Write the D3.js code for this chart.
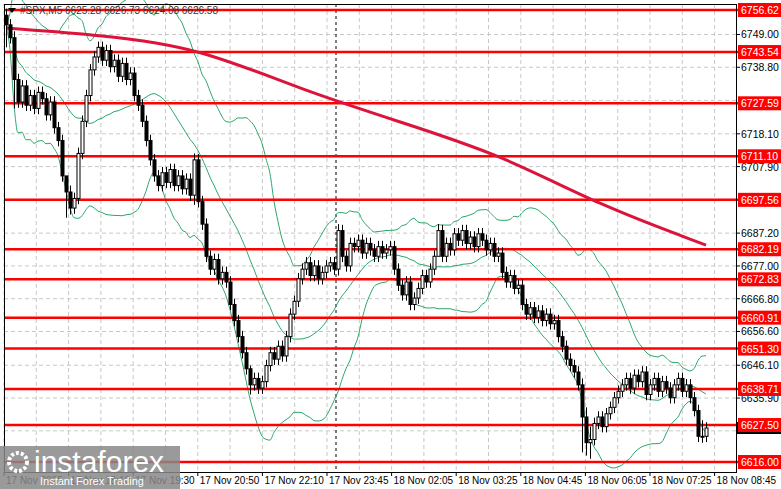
<!DOCTYPE html>
<html><head><meta charset="utf-8">
<script src="https://cdn.jsdelivr.net/npm/d3@7"></script>
<style>body{margin:0;background:#fff}text{font-family:"Liberation Sans",Arial,sans-serif}</style>
</head><body>
<script>
// closing prices of the 5-minute bars, left to right
var closes = [6752,6748,6735,6728,6733,6727,6730,6726,6731,6729,6724,6728,6720,6716,6705,6700,6695,6698,6712,6722,6730,
  6738,6742,6745,6741,6744,6739,6741,6736,6740,6735,6737,6730,6727,6722,6716,6710,6705,6702,6706,6703,
  6707,6702,6705,6701,6704,6699,6710,6697,6690,6680,6676,6679,6673,6675,6672,6665,6660,6655,6650,6645,6640,6642,
  6639,6641,6646,6650,6648,6652,6649,6655,6662,6666,6673,6676,6678,6674,6677,6673,6675,6677,6678,6676,6688,
  6680,6677,6684,6683,6685,6681,6684,6682,6680,6683,6681,6682,6683,6676,6671,6668,6672,6665,6667,6670,
  6674,6672,6676,6680,6688,6680,6684,6682,6687,6685,6688,6684,6686,6683,6687,6685,6682,6684,6680,6681,6675,
  6672,6674,6670,6671,6665,6662,6664,6661,6663,6660,6662,6659,6660,6655,6652,6648,6646,6644,6640,6630,6622,
  6623,6628,6630,6627,6631,6633,6636,6638,6640,6642,6639,6643,6641,6644,6637,6640,6642,6638,6641,6639,
  6636,6640,6642,6638,6640,6636,6632,6624,6624,6626.58];
var firstOpen = 6755;
// bars with long wicks: [index, high, low]
var spikes = [[0,6757,6745],[2,6750,6726],[15,6703,6692],[16,6702,6693],[47,6712,6696],[61,6646,6637],
  [83,6690,6674],[108,6690,6680],[144,6642,6619],[145,6633,6618],[146,6627,6617],[174,6629,6622]];
var wick = 1.8;
// long moving average, sampled at bar indices
var maIdx = [0,24,48,74,98,124,148,175];
var maVal = [6751,6748.8,6745,6731.7,6722,6711.5,6696,6683.5];
var levels = [6756.62,6743.54,6727.59,6711.10,6697.56,6682.19,6672.83,6660.91,6651.30,6638.71,6627.50,6616.00];
var yTicks = [6749.00,6738.80,6718.10,6707.90,6687.20,6677.00,6666.80,6656.60,6646.10,6635.90];
var xLabels = ["17 Nov 2025","17 Nov 18:10","17 Nov 19:30","17 Nov 20:50","17 Nov 22:10","17 Nov 23:45",
  "18 Nov 02:05","18 Nov 03:25","18 Nov 04:45","18 Nov 06:05","18 Nov 07:25","18 Nov 08:45"];

var W = 781, H = 489, right = 736, bottom = 472;
var svg = d3.select('body').append('svg').attr('width', W).attr('height', H);
var y = d3.scaleLinear().domain([6616, 6756.62]).range([462, 10]);
var x = d3.scaleLinear().domain([0, 1]).range([6, 10]);

var bars = closes.map(function(c, i) {
  var o = i ? closes[i - 1] : firstOpen;
  return {o: o, c: c, h: Math.max(o, c) + wick, l: Math.min(o, c) - wick};
});
spikes.forEach(function(s){ bars[s[0]].h = s[1]; bars[s[0]].l = s[2]; });

// grid
var g = svg.append('g').attr('stroke', '#c8c8c8').attr('stroke-dasharray', '4,3');
for (var k = 0; k < 23; k++) {
  var gx = 4 + k * 32.3;
  g.append('line').attr('x1', gx).attr('x2', gx).attr('y1', 4).attr('y2', bottom);
}
yTicks.concat([6728.5, 6697.7, 6625.7]).forEach(function(v){
  g.append('line').attr('x1', 4).attr('x2', right).attr('y1', y(v)).attr('y2', y(v));
});
svg.append('line').attr('x1', 336).attr('x2', 336).attr('y1', 4).attr('y2', bottom)
  .attr('stroke', '#000').attr('stroke-dasharray', '3,3');

// bollinger bands (20, 2)
var mid = [], up = [], lo = [];
closes.forEach(function(c, i) {
  var w = closes.slice(Math.max(0, i - 19), i + 1);
  var m = d3.mean(w), sd = d3.deviation(w) || 0;
  mid.push(m); up.push(m + 2 * sd); lo.push(m - 2 * sd);
});
var line = d3.line().x(function(d, i){ return x(i); }).y(function(d){ return y(d); }).curve(d3.curveMonotoneX);
[mid, up, lo].forEach(function(s){
  svg.append('path').attr('d', line(s)).attr('fill', 'none').attr('stroke', '#2ca86a').attr('stroke-width', 1);
});

// levels
levels.forEach(function(v){
  svg.append('line').attr('x1', 4).attr('x2', 740).attr('y1', y(v)).attr('y2', y(v))
    .attr('stroke', '#ff0000').attr('stroke-width', 2.5);
});

// moving average
svg.append('path').attr('d', d3.line().x(function(d, i){ return x(maIdx[i]); }).y(function(d){ return y(d); })
  .curve(d3.curveBasis)(maVal)).attr('fill', 'none').attr('stroke', '#dc143c').attr('stroke-width', 3);

// candles
var cg = svg.append('g');
bars.forEach(function(b, i) {
  var cx = Math.round(x(i)) + 0.5;
  cg.append('line').attr('x1', cx).attr('x2', cx).attr('y1', y(b.h)).attr('y2', y(b.l)).attr('stroke', '#000');
  var top = y(Math.max(b.o, b.c)), hgt = Math.max(1, Math.abs(y(b.o) - y(b.c)));
  cg.append('rect').attr('x', cx - 1.5).attr('y', top).attr('width', 3).attr('height', hgt)
    .attr('fill', b.c >= b.o ? '#fff' : '#000').attr('stroke', '#000').attr('stroke-width', 1);
});

// frame
svg.append('rect').attr('x', 4.5).attr('y', 4.5).attr('width', right - 4).attr('height', bottom - 4)
  .attr('fill', 'none').attr('stroke', '#000');

// right axis
yTicks.forEach(function(v){
  svg.append('line').attr('x1', right).attr('x2', right + 4).attr('y1', y(v)).attr('y2', y(v)).attr('stroke', '#000');
  svg.append('text').attr('x', 741).attr('y', y(v) + 4).attr('font-size', 10.5).text(v.toFixed(2));
});
svg.append('rect').attr('x', 737).attr('y', y(6626.58) - 6).attr('width', 44).attr('height', 12).attr('fill', '#000');
levels.forEach(function(v){
  svg.append('rect').attr('x', 738).attr('y', y(v) - 7).attr('width', 43).attr('height', 14).attr('fill', '#ff0000');
  svg.append('text').attr('x', 741).attr('y', y(v) + 4).attr('font-size', 10.5).attr('fill', '#fff').text(v.toFixed(2));
});

// bottom axis
xLabels.forEach(function(t, k){
  var tx = 4 + k * 64.6;
  svg.append('line').attr('x1', tx).attr('x2', tx).attr('y1', bottom).attr('y2', bottom + 4).attr('stroke', '#000');
  svg.append('text').attr('x', tx + 2).attr('y', 484).attr('font-size', 10).text(t);
});

// title
svg.append('path').attr('d', 'M8,8 L16,8 L12,13 Z').attr('fill', '#000');
svg.append('text').attr('x', 20).attr('y', 14).attr('font-size', 10).attr('fill', '#333')
  .text('#SPX,M5  6625.28 6626.73 6624.08 6626.58');

// watermark
var wm = svg.append('g');
wm.append('rect').attr('x', 0).attr('y', 446).attr('width', 180).attr('height', 43).attr('fill', '#888').attr('opacity', 0.85);
wm.append('circle').attr('cx', 18).attr('cy', 462).attr('r', 9).attr('fill', 'none').attr('stroke', '#fff').attr('stroke-width', 4).attr('stroke-dasharray', '3,2');
wm.append('text').attr('x', 34).attr('y', 472).attr('font-size', 30).attr('fill', '#fff').text('instaforex');
wm.append('text').attr('x', 40).attr('y', 485).attr('font-size', 11).attr('fill', '#fff').text('Instant Forex Trading');
</script>
</body></html>
